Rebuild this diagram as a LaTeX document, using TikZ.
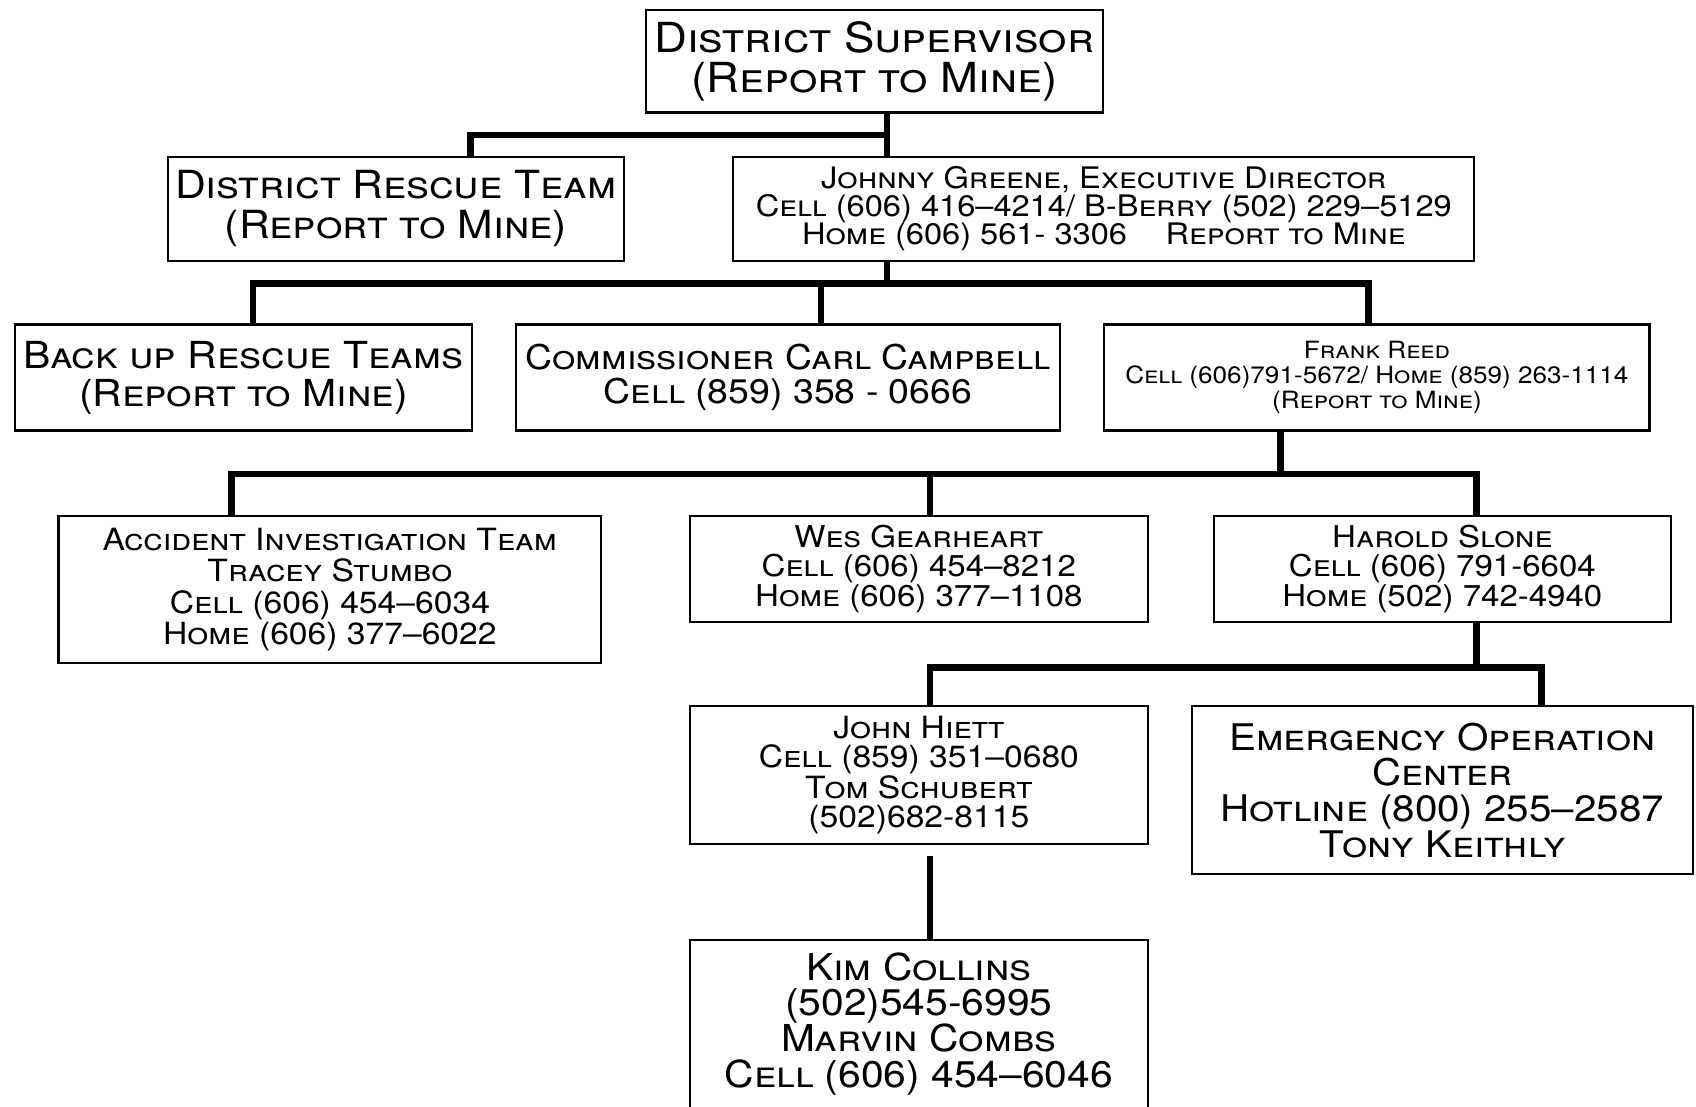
\documentclass[tikz,border=0pt]{standalone}
\usepackage{fontspec}
\setmainfont[FakeStretch=1.1]{TeX Gyre Heros}
\begin{document}
\begin{tikzpicture}[x=0.02cm, y=-0.02cm,
  box/.style={draw, line width=1.1pt, align=center, inner sep=0pt},
  link/.style={line width=3.4pt, line join=miter},
  fs/.style args={#1/#2}{font=\scshape\fontsize{#1}{#2}\selectfont}]
  \useasboundingbox (0,0) rectangle (1568,1023);
  \node[box, fs=21.8/21, minimum width=8.46cm, minimum height=1.9cm] (ds) at (808.5,56.5) {District Supervisor\\(Report to Mine)};
  \node[box, fs=20.4/21, minimum width=8.44cm, minimum height=1.92cm] (drt) at (366,193) {District Rescue Team\\(Report to Mine)};
  \node[box, fs=15.6/14.8, minimum width=13.7cm, minimum height=1.92cm] (jg) at (1020.5,193) {Johnny Greene, Executive Director\\Cell (606) 416–4214/ B-Berry (502) 229–5129\\Home (606) 561- 3306\hspace{1.3em}Report to Mine};
  \node[box, fs=19.6/20, minimum width=8.44cm, minimum height=1.96cm] (bu) at (225,349) {Back up Rescue Teams\\(Report to Mine)};
  \node[box, fs=17.9/17.6, minimum width=10.06cm, minimum height=1.96cm] (cc) at (728.5,349) {Commissioner Carl Campbell\\Cell (859) 358 - 0666};
  \node[box, fs=12.5/13, minimum width=10.08cm, minimum height=1.96cm] (fr) at (1273,349) {Frank Reed\\Cell (606)791-5672/ Home (859) 263-1114\\(Report to Mine)};
  \node[box, fs=16.1/16.5, minimum width=10.04cm, minimum height=2.72cm] (ait) at (305,545) {Accident Investigation Team\\Tracey Stumbo\\Cell (606) 454–6034\\Home (606) 377–6022};
  \node[box, fs=15.8/15.4, minimum width=8.46cm, minimum height=1.96cm] (wg) at (849.5,526) {Wes Gearheart\\Cell (606) 454–8212\\Home (606) 377–1108};
  \node[box, fs=15.8/15.4, minimum width=8.46cm, minimum height=1.96cm] (hs) at (1333.5,526) {Harold Slone\\Cell (606) 791-6604\\Home (502) 742-4940};
  \node[box, fs=16.1/15.4, minimum width=8.46cm, minimum height=2.54cm] (jh) at (849.5,716.5) {John Hiett\\Cell (859) 351–0680\\Tom Schubert\\(502)682-8115};
  \node[box, fs=19.3/18.8, minimum width=9.26cm, minimum height=3.1cm] (eoc) at (1333.5,730.5) {Emergency Operation\\Center\\Hotline (800) 255–2587\\Tony Keithly};
  \node[box, fs=19.5/18.8, minimum width=8.46cm, minimum height=3.1cm] (kc) at (849.5,946.5) {Kim Collins\\(502)545-6995\\Marvin Combs\\Cell (606) 454–6046};
  \draw[link] (ds.south -| 820,0) -- (jg.north -| 820,0);
  \draw[link] (drt.north -| 435,0) |- (820,125);
  \draw[link] (jg.south -| 820,0) -- (820,262);
  \draw[link] (bu.north -| 234,0) |- (1265,262) -- (fr.north -| 1265,0);
  \draw[link] (cc.north -| 759,0) -- (759,262);
  \draw[link] (fr.south -| 1184,0) -- (1184,438);
  \draw[link] (ait.north -| 214,0) |- (1365,438) -- (hs.north -| 1365,0);
  \draw[link] (wg.north -| 860,0) -- (860,438);
  \draw[link] (hs.south -| 1365,0) -- (1365,617);
  \draw[link] (jh.north -| 860,0) |- (1425,617) -- (eoc.north -| 1425,0);
  \draw[link] (jh.south -| 860,0) ++(0,10) -- (kc.north -| 860,0);
\end{tikzpicture}
\end{document}
